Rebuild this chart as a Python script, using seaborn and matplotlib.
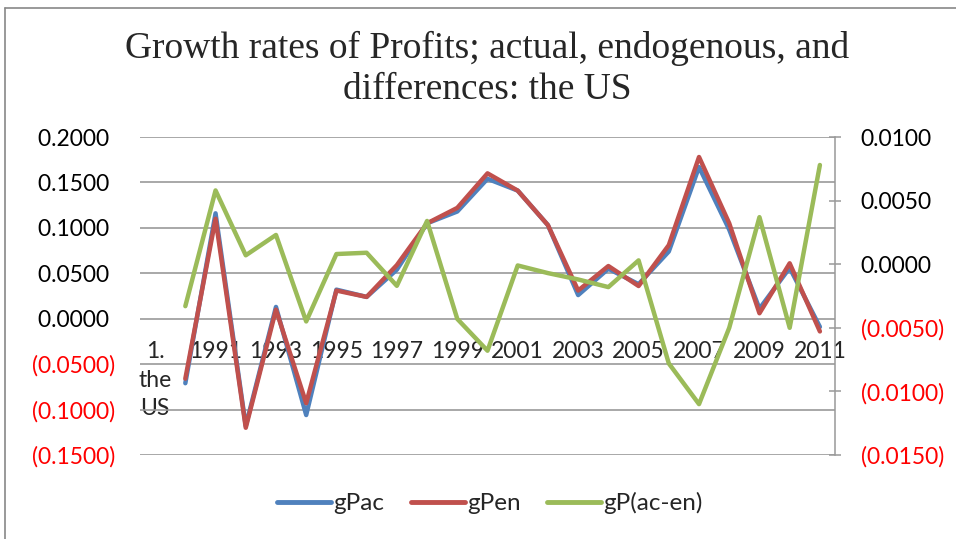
import matplotlib
matplotlib.use("Agg")
import matplotlib.pyplot as plt
from matplotlib.lines import Line2D
import seaborn as sns
import pandas as pd
import numpy as np

# categories on the x axis (first one is the country label, no data)
categories = ["1.\nthe\nUS", "1990", "1991", "1992", "1993", "1994", "1995", "1996",
              "1997", "1998", "1999", "2000", "2001", "2002", "2003", "2004",
              "2005", "2006", "2007", "2008", "2009", "2010", "2011"]

# values for 1990..2011
gPac = [-0.071, 0.116, -0.118, 0.013, -0.106, 0.032, 0.024, 0.054, 0.105, 0.118,
        0.154, 0.141, 0.103, 0.026, 0.055, 0.038, 0.074, 0.167, 0.098, 0.011,
        0.056, -0.009]
gPen = [-0.066, 0.110, -0.120, 0.010, -0.093, 0.031, 0.024, 0.059, 0.105, 0.122,
        0.160, 0.141, 0.103, 0.031, 0.058, 0.036, 0.081, 0.178, 0.105, 0.006,
        0.061, -0.014]
gPdiff = [-0.0033, 0.0058, 0.0007, 0.0023, -0.0045, 0.0008, 0.0009, -0.0017,
          0.0034, -0.0043, -0.0068, -0.0001, -0.0007, -0.0012, -0.0018, 0.0003,
          -0.0078, -0.0110, -0.0050, 0.0037, -0.0050, 0.0078]

left_ticks = [0.20, 0.15, 0.10, 0.05, 0.0, -0.05, -0.10, -0.15]
right_ticks = [0.010, 0.005, 0.0, -0.005, -0.010, -0.015]

BLUE = "#4F81BD"
RED = "#C0504D"
GREEN = "#9BBB59"
GRID = "#999999"

sns.set_theme(style="white")
plt.rcParams["font.family"] = ["Lato", "DejaVu Sans"]

df = pd.DataFrame({"pos": np.arange(1, len(categories)),
                   "gPac": gPac, "gPen": gPen, "gP(ac-en)": gPdiff})

W, H = 956, 539
fig = plt.figure(figsize=(W / 100, H / 100), dpi=100)
ax = fig.add_axes([140 / W, 1 - 455 / H, (835 - 140) / W, (455 - 137) / H])
ax2 = ax.twinx()

sns.lineplot(data=df, x="pos", y="gPac", ax=ax, color=BLUE, lw=3.2, legend=False)
sns.lineplot(data=df, x="pos", y="gPen", ax=ax, color=RED, lw=3.2, legend=False)
sns.lineplot(data=df, x="pos", y="gP(ac-en)", ax=ax2, color=GREEN, lw=3.2, legend=False)

ax.set_xlim(-0.5, len(categories) - 0.5)
ax.set_ylim(-0.15, 0.20)
ax2.set_ylim(-0.015, 0.010)
ax.set_xlabel("")
ax.set_ylabel("")
ax2.set_ylabel("")

# excel style number format: 0.0000 ;(0.0000)
def fmt(v, digits=4):
    if v < -1e-12:
        return "(" + f"{-v:.{digits}f}" + ")"
    return f"{v:.{digits}f} "

ax.set_yticks(left_ticks)
ax.set_yticklabels([fmt(v) for v in left_ticks])
ax2.set_yticks(right_ticks)
ax2.set_yticklabels([fmt(v).strip() for v in right_ticks])
for lab, v in zip(ax.get_yticklabels(), left_ticks):
    lab.set_color("red" if v < 0 else "black")
for lab, v in zip(ax2.get_yticklabels(), right_ticks):
    lab.set_color("red" if v < 0 else "black")

ax.yaxis.grid(True, color=GRID, lw=1.2)
ax.tick_params(axis="y", length=0, pad=18, labelsize=16.5)
ax2.tick_params(axis="y", direction="inout", length=9, width=1.1, color=GRID,
                pad=14, labelsize=16.5)

# category labels sit on the zero line, every second one shown
xt = list(range(0, len(categories), 2))
ax.set_xticks(xt)
ax.set_xticklabels([categories[i] for i in xt])
ax.spines["bottom"].set_position(("data", 0))
ax.tick_params(axis="x", length=0, pad=16, labelsize=16.5)
ax.get_xticklabels()[0].set_linespacing(1.45)

for a in (ax, ax2):
    for s in ("top", "left", "bottom"):
        a.spines[s].set_visible(False)
ax.spines["right"].set_visible(False)
ax2.spines["right"].set_color(GRID)
ax2.spines["right"].set_linewidth(1.1)

fig.text(487 / W, 1 - 31 / H,
         "Growth rates of Profits; actual, endogenous, and\ndifferences: the US",
         ha="center", va="top", fontsize=27, family="Liberation Serif", linespacing=1.25)

handles = [Line2D([], [], color=c, lw=3.5) for c in (BLUE, RED, GREEN)]
fig.legend(handles, ["gPac", "gPen", "gP(ac-en)"], loc="center",
           bbox_to_anchor=(490 / W, 1 - 503 / H), ncol=3, frameon=False,
           fontsize=17.5, handlelength=2.2, handletextpad=0.1, columnspacing=1.1)

# chart border (left and top edges)
fig.add_artist(Line2D([5 / W, 5 / W], [0, 1 - 8 / H], color="#888888", lw=1.2))
fig.add_artist(Line2D([5 / W, 1], [1 - 8 / H, 1 - 8 / H], color="#888888", lw=1.2))

fig.savefig("out.png", dpi=100)
